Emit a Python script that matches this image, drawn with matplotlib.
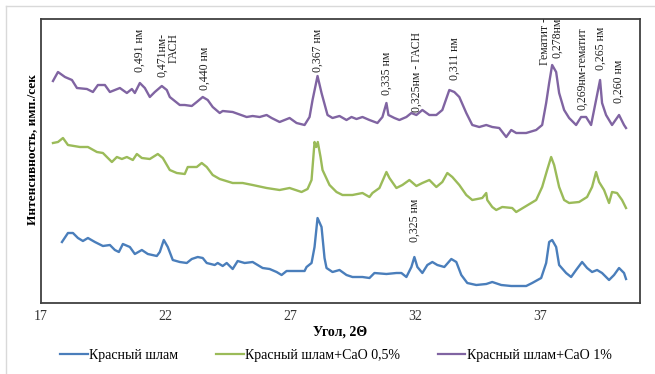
import matplotlib
matplotlib.use("Agg")
import matplotlib.pyplot as plt
from matplotlib.lines import Line2D

plt.rcParams['font.family'] = ['Liberation Serif', 'DejaVu Serif']

# Красный шлам (blue)
angle_rs = [17.84, 18.08, 18.28, 18.48, 18.68, 18.88, 19.16, 19.48, 19.76, 19.96,
            20.12, 20.28, 20.56, 20.76, 21.04, 21.28, 21.64, 21.76, 21.92, 22.08,
            22.28, 22.56, 22.84, 23.04, 23.28, 23.48, 23.64, 23.96, 24.08, 24.28,
            24.44, 24.68, 24.88, 25.16, 25.48, 25.88, 26.16, 26.44, 26.64, 26.84,
            27.08, 27.56, 27.64, 27.84, 27.96, 28.08, 28.24, 28.36, 28.44, 28.68,
            28.96, 29.24, 29.48, 29.88, 30.16, 30.36, 30.84, 31.24, 31.44, 31.64,
            31.84, 31.96, 32.08, 32.28, 32.48, 32.68, 32.88, 33.16, 33.44, 33.64,
            33.84, 34.08, 34.44, 34.84, 35.08, 35.44, 35.84, 36.44, 36.68, 37.04,
            37.24, 37.36, 37.48, 37.64, 37.76, 38.04, 38.24, 38.44, 38.68, 38.88,
            39.08, 39.28, 39.48, 39.76, 39.96, 40.16, 40.36, 40.44]
int_rs = [61, 70, 70, 65, 62, 65, 61, 57, 58, 53,
          51, 59, 56, 49, 53, 49, 47, 51, 63, 56,
          43, 41, 40, 44, 46, 45, 40, 38, 40, 37,
          40, 34, 42, 40, 41, 35, 34, 31, 28, 32,
          32, 32, 36, 40, 56, 85, 76, 45, 35, 31,
          33, 28, 26, 26, 25, 30, 29, 30, 30, 26,
          36, 46, 36, 30, 38, 41, 38, 36, 44, 41,
          28, 20, 18, 19, 21, 18, 17, 17, 20, 25,
          40, 61, 63, 56, 38, 30, 26, 33, 41, 35,
          31, 33, 30, 23, 28, 35, 30, 24]

# Красный шлам+CaO 0,5% (green)
angle_05 = [17.48, 17.68, 17.88, 18.08, 18.56, 18.88, 19.24, 19.48, 19.84, 20.04,
            20.24, 20.44, 20.68, 20.84, 21.04, 21.36, 21.68, 21.88, 22.16, 22.44,
            22.76, 22.88, 23.24, 23.44, 23.64, 23.88, 24.16, 24.68, 25.08, 25.48,
            26.04, 26.56, 26.96, 27.44, 27.68, 27.84, 27.96, 28.03, 28.09, 28.2,
            28.28, 28.56, 28.84, 29.08, 29.48, 29.88, 30.16, 30.28, 30.56, 30.84,
            30.96, 31.24, 31.48, 31.76, 32.04, 32.28, 32.56, 32.84, 33.08, 33.28,
            33.48, 33.76, 34.04, 34.28, 34.68, 34.84, 34.88, 35.08, 35.24, 35.48,
            35.88, 36.04, 36.44, 36.84, 37.08, 37.28, 37.44, 37.56, 37.76, 37.96,
            38.16, 38.56, 38.88, 39.08, 39.24, 39.36, 39.56, 39.76, 39.88, 40.08,
            40.28, 40.44]
int_05 = [160, 161, 165, 158, 156, 156, 151, 150, 141, 146,
          144, 146, 143, 149, 145, 144, 149, 145, 133, 130,
          129, 136, 136, 140, 136, 128, 124, 120, 120, 118,
          115, 113, 115, 111, 114, 123, 161, 156, 161, 146,
          133, 118, 111, 108, 108, 110, 106, 110, 115, 131,
          125, 115, 118, 123, 117, 120, 123, 116, 121, 130,
          126, 118, 108, 103, 105, 110, 103, 96, 93, 96,
          95, 91, 97, 103, 116, 133, 146, 138, 116, 103,
          100, 101, 106, 116, 131, 121, 113, 100, 111, 110,
          103, 95]

# Красный шлам+CaO 1% (purple)
angle_1 = [17.48, 17.68, 17.96, 18.24, 18.44, 18.84, 19.08, 19.28, 19.56, 19.76,
           19.96, 20.16, 20.44, 20.64, 20.76, 20.96, 21.16, 21.36, 21.56, 21.84,
           22.04, 22.16, 22.56, 22.76, 23.04, 23.24, 23.48, 23.68, 23.88, 24.16,
           24.28, 24.68, 25.24, 25.48, 25.76, 26.04, 26.24, 26.56, 26.96, 27.24,
           27.56, 27.76, 27.88, 28.08, 28.24, 28.48, 28.68, 28.96, 29.24, 29.44,
           29.64, 29.88, 30.16, 30.48, 30.68, 30.84, 30.92, 31.16, 31.36, 31.64,
           31.84, 32.04, 32.28, 32.56, 32.84, 33.08, 33.36, 33.56, 33.76, 34.04,
           34.28, 34.56, 34.84, 35.08, 35.36, 35.64, 35.84, 36.04, 36.44, 36.84,
           37.08, 37.24, 37.36, 37.48, 37.64, 37.76, 37.96, 38.16, 38.44, 38.64,
           38.84, 39.04, 39.24, 39.40, 39.48, 39.64, 39.88, 40.16, 40.36, 40.44]
int_1 = [222, 231, 226, 223, 215, 214, 211, 218, 218, 211,
         213, 215, 210, 214, 210, 220, 215, 206, 211, 217,
         213, 206, 198, 198, 197, 201, 206, 203, 196, 190,
         192, 191, 186, 187, 186, 188, 185, 181, 185, 180,
         178, 186, 203, 227, 210, 188, 185, 187, 183, 186,
         184, 186, 183, 180, 186, 200, 188, 185, 183, 186,
         190, 188, 193, 188, 188, 193, 213, 211, 206, 190,
         178, 176, 178, 176, 175, 166, 173, 170, 170, 173,
         178, 200, 220, 238, 231, 210, 193, 185, 178, 186,
         186, 178, 203, 223, 200, 188, 178, 188, 178, 175]

# peak labels: text, angle, height of label base
peak_labels = ["0,491 нм", "0,471нм-\nГАСН", "0,440 нм", "0,367 нм", "0,335 нм",
               "0,325нм - ГАСН", "0,311 нм", "Гематит -\n0,278нм", "0,269нм-гематит",
               "0,265 нм", "0,260 нм", "0,325 нм"]
peak_x = [20.96, 22.08, 23.56, 28.08, 30.84, 32.04, 33.56, 37.44, 38.68, 39.44, 40.16, 31.96]
peak_y = [231, 226, 213, 231, 208, 191, 223, 238, 193, 233, 200, 61]

series_names = ["Красный шлам", "Красный шлам+CaO 0,5%", "Красный шлам+CaO 1%"]
colors = ["#4a7ebb", "#9bbb59", "#8064a2"]

fig = plt.figure(figsize=(6.55, 3.74), dpi=100)
ax = fig.add_axes([41 / 655, 71 / 374, 599 / 655, 284 / 374])

ax.plot(angle_rs, int_rs, color=colors[0], lw=1.7)
ax.plot(angle_05, int_05, color=colors[1], lw=1.7)
ax.plot(angle_1, int_1, color=colors[2], lw=1.7)

for txt, x, y in zip(peak_labels, peak_x, peak_y):
    ax.text(x, y, txt, rotation=90, ha='center', va='bottom', multialignment='right',
            fontsize=8.5, color='#222222', linespacing=0.95)

ax.set_xlim(17, 41)
ax.set_ylim(0, 284)
ax.set_xticks([17, 22, 27, 32, 37])
ax.set_yticks([])
ax.tick_params(axis='x', length=0, pad=5, labelsize=10, colors='#333333')
for s in ax.spines.values():
    s.set_color('#404040')
    s.set_linewidth(1.3)

ax.set_xlabel("Угол, 2Θ", fontsize=10, fontweight='bold', labelpad=2)
ax.set_ylabel("Интенсивность, имп./сек", fontsize=9.5, fontweight='bold')
ax.yaxis.set_label_coords(-0.005, 0.54)

handles = [Line2D([], [], color=c, lw=1.6) for c in colors]
fig.legend(handles, series_names, loc='center', bbox_to_anchor=(336 / 655, 1 - 355 / 374),
           ncol=3, frameon=False, fontsize=10, handlelength=2.0, handletextpad=0.1,
           columnspacing=2.7)

# light frame of the chart area
fig.add_artist(Line2D([6 / 655, 1], [1 - 6 / 374, 1 - 6 / 374], color='#d9d9d9', lw=1))
fig.add_artist(Line2D([6 / 655, 6 / 655], [0, 1 - 6 / 374], color='#d9d9d9', lw=1))

fig.savefig("out.png", dpi=100)
